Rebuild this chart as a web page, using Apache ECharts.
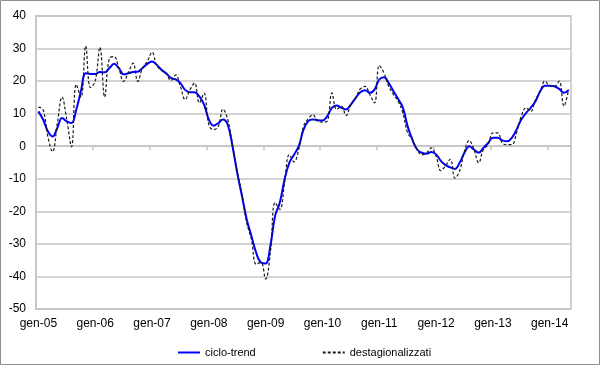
<!DOCTYPE html>
<html>
<head>
<meta charset="utf-8">
<script src="https://cdn.jsdelivr.net/npm/echarts@6/dist/echarts.min.js"></script>
<style>
html,body{margin:0;padding:0;background:#fff;}
#chart{width:600px;height:365px;}
</style>
</head>
<body>
<div id="chart"></div>
<script>
// Month abbreviations (Italian) and years for categories
var monthNames = ['gen','feb','mar','apr','mag','giu','lug','ago','set','ott','nov','dic'];
var years = ['05','06','07','08','09','10','11','12','13','14'];
var monthCount = 113; // gen-05 .. mag-14

var seriesNames = ['ciclo-trend', 'destagionalizzati'];

var cicloTrend = [
  10.7, 8.2, 4.6, 3.0, 5.6, 8.7, 7.6, 7.1, 11.2, 17.0, 22.4, 22.2,
  22.2, 22.8, 22.7, 24.0, 25.3, 24.0, 22.1, 22.4, 22.8, 22.9, 24.0, 25.3,
  26.0, 25.0, 23.5, 22.4, 21.0, 20.5, 19.4, 17.3, 16.6, 16.6, 15.3, 12.8,
  8.2, 6.3, 7.1, 8.2, 6.6, 0.0, -8.2, -15.3, -22.4, -27.6, -32.7, -35.7,
  -36.0, -30.6, -21.4, -17.3, -10.2, -5.1, -2.6, 0.0, 5.1, 7.7, 8.2, 8.0,
  7.9, 9.2, 11.8, 12.5, 11.8, 11.3, 12.8, 14.8, 16.6, 17.2, 16.4, 17.4,
  20.5, 21.2, 19.4, 16.9, 14.5, 11.8, 6.1, 2.0, -1.0, -2.0, -2.3, -1.8,
  -2.5, -4.5, -5.8, -6.5, -7.0, -5.0, -2.0, 0.0, -1.0, -2.0, -0.5, 1.0,
  2.6, 2.6, 1.8, 1.5, 2.6, 5.1, 8.2, 10.2, 11.8, 13.8, 16.9, 18.6,
  18.6, 18.4, 17.6, 16.4, 17.2
];

var destagionalizzati = [
  12.0, 11.2, 3.0, -1.7, 7.0, 15.1, 8.2, -0.2, 19.0, 15.0, 30.8, 18.0,
  20.0, 30.4, 15.1, 27.0, 27.5, 24.0, 19.9, 22.6, 25.5, 19.9, 24.0, 26.0,
  28.9, 24.8, 23.3, 22.2, 20.2, 21.9, 18.4, 14.3, 17.3, 19.4, 13.3, 16.3,
  6.6, 5.1, 6.1, 11.4, 8.2, 0.5, -7.7, -14.8, -23.5, -28.6, -36.2, -35.7,
  -40.8, -32.7, -17.3, -19.4, -11.2, -2.6, -4.8, -1.0, 6.1, 8.4, 9.7, 7.7,
  7.4, 7.7, 16.4, 11.3, 12.3, 9.4, 12.8, 14.8, 17.6, 18.4, 15.9, 13.3,
  24.8, 22.5, 18.4, 15.9, 13.8, 10.2, 4.1, 2.0, -1.0, -2.6, -2.0, -0.5,
  -3.0, -7.5, -6.0, -4.0, -9.8, -7.5, -1.5, 1.8, -1.0, -5.1, -1.0, 0.5,
  4.1, 4.1, 1.0, 0.5, 0.5, 4.1, 9.2, 11.8, 10.7, 14.3, 16.9, 20.0,
  18.6, 18.4, 20.0, 12.3, 17.4
];

var categories = [];
for (var i = 0; i < monthCount; i++) {
  categories.push(monthNames[i % 12] + '-' + years[Math.floor(i / 12)]);
}

var chart = echarts.init(document.getElementById('chart'), null, {renderer: 'canvas'});
var font = 'Liberation Sans, Arial, sans-serif';
var gridColor = '#c4c4c4';

chart.setOption({
  animation: false,
  backgroundColor: '#ffffff',
  textStyle: {fontFamily: font},
  graphic: [{
    type: 'rect',
    shape: {x: 0.5, y: 0.5, width: 599, height: 364},
    style: {fill: 'none', stroke: '#8f8f8f', lineWidth: 1},
    silent: true
  }],
  grid: {
    left: 36, right: 29, top: 16, bottom: 56,
    show: true, borderColor: gridColor, borderWidth: 1.5,
    containLabel: false
  },
  legend: {
    left: 172, top: 342,
    itemWidth: 22, itemHeight: 12, itemGap: 66,
    itemStyle: {opacity: 0},
    textStyle: {fontFamily: font, fontSize: 11, color: '#000'},
    data: seriesNames
  },
  xAxis: [{
    type: 'category',
    data: categories,
    boundaryGap: true,
    position: 'bottom',
    axisLine: {onZero: false, show: true, lineStyle: {color: gridColor, width: 1.5}},
    axisTick: {show: false},
    axisLabel: {
      interval: 11, margin: 9,
      fontFamily: font, fontSize: 12, color: '#000'
    },
    splitLine: {show: false}
  }, {
    type: 'category',
    data: categories,
    boundaryGap: true,
    position: 'bottom',
    axisLine: {onZero: true, show: true, lineStyle: {color: gridColor, width: 1.5}},
    axisTick: {show: true, interval: 11, length: 4, inside: false, lineStyle: {color: gridColor, width: 1.5}},
    axisLabel: {show: false},
    splitLine: {show: false}
  }],
  yAxis: {
    type: 'value',
    min: -50, max: 40, interval: 10,
    axisLine: {show: true, lineStyle: {color: gridColor, width: 1.5}},
    axisTick: {show: false},
    axisLabel: {margin: 10, fontFamily: font, fontSize: 12, color: '#000'},
    splitLine: {show: true, lineStyle: {color: gridColor, width: 1.5}}
  },
  series: [{
    name: seriesNames[0],
    type: 'line',
    xAxisIndex: 0,
    data: cicloTrend,
    smooth: 0.4,
    symbol: 'none',
    lineStyle: {color: '#0000ff', width: 2},
    itemStyle: {color: '#0000ff'}
  }, {
    name: seriesNames[1],
    type: 'line',
    xAxisIndex: 0,
    data: destagionalizzati,
    smooth: 0.4,
    symbol: 'none',
    lineStyle: {color: '#1a1a1a', width: 1.2, type: [3, 2]},
    itemStyle: {color: '#1a1a1a'}
  }]
});
</script>
</body>
</html>
